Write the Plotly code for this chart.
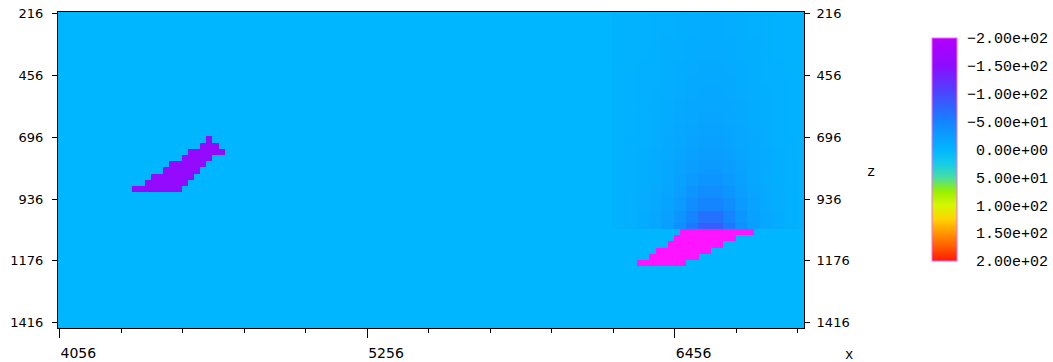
import numpy as np
import plotly.graph_objects as go

# ---- model grid: 24 m cells, values on cell centres ----
CELL = 24
X_FIRST = 4064          # centre of the first column
Z_FIRST = 225           # centre of the first row
NX, NZ = 122, 51
background_value = 0.0

# shallow dipping body (one entry per grid row: depth, left edge, right edge)
body_a_z = [705, 729, 753, 777, 801, 825, 849, 873, 897]
body_a_x0 = [4628, 4604, 4556, 4532, 4484, 4460, 4412, 4388, 4340]
body_a_x1 = [4652, 4676, 4700, 4652, 4628, 4604, 4580, 4556, 4532]
body_a_value = -160.0

# deep dipping body, value lies beyond the colour range
body_b_z = [1065, 1089, 1113, 1137, 1161, 1185]
body_b_x0 = [6476, 6452, 6428, 6380, 6356, 6308]
body_b_x1 = [6764, 6692, 6644, 6596, 6548, 6500]
body_b_value = -260.0

# response field above the deep body (48 m blocks, last row 24 m)
field_x_edges = [6212, 6260, 6308, 6356, 6404, 6452, 6500, 6548, 6596,
                 6644, 6692, 6740, 6788, 6836, 6884, 6932, 6980]
field_z_edges = [213, 261, 309, 357, 405, 453, 501, 549, 597, 645,
                 693, 741, 789, 837, 885, 933, 981, 1029, 1053]
field_values = [
    [-3, -4, -5, -6, -7, -8, -9, -10, -10, -9, -8, -7, -6, -5, -4, -3],
    [-3, -4, -5, -6, -7, -8, -9, -10, -10, -9, -8, -7, -6, -5, -4, -3],
    [-3, -4, -5, -6, -8, -9, -10, -11, -11, -10, -9, -8, -6, -5, -4, -3],
    [-3, -4, -5, -7, -8, -9, -10, -11, -11, -10, -9, -8, -7, -5, -4, -3],
    [-3, -4, -6, -7, -8, -10, -11, -12, -12, -11, -10, -8, -7, -6, -4, -3],
    [-4, -5, -6, -7, -9, -10, -12, -13, -13, -12, -10, -9, -7, -6, -5, -4],
    [-4, -5, -6, -8, -9, -11, -13, -14, -14, -13, -11, -9, -8, -6, -5, -4],
    [-4, -5, -6, -8, -10, -12, -14, -15, -15, -14, -12, -10, -8, -6, -5, -4],
    [-4, -5, -7, -8, -10, -13, -15, -17, -17, -15, -13, -10, -8, -7, -5, -4],
    [-4, -5, -7, -9, -11, -14, -17, -19, -19, -17, -14, -11, -9, -7, -5, -4],
    [-4, -6, -7, -9, -12, -15, -19, -21, -21, -19, -15, -12, -9, -7, -6, -4],
    [-4, -6, -8, -10, -13, -17, -21, -24, -24, -21, -17, -13, -10, -8, -6, -4],
    [-5, -6, -8, -11, -14, -19, -24, -28, -28, -24, -19, -14, -11, -8, -6, -5],
    [-5, -6, -8, -11, -15, -21, -28, -33, -33, -28, -21, -15, -11, -8, -6, -5],
    [-5, -7, -9, -12, -17, -24, -33, -40, -40, -33, -24, -17, -12, -9, -7, -5],
    [-5, -7, -9, -13, -19, -28, -40, -50, -50, -40, -28, -19, -13, -9, -7, -5],
    [-5, -7, -10, -14, -21, -33, -50, -66, -66, -50, -33, -21, -14, -10, -7, -5],
    [-5, -7, -10, -15, -23, -38, -60, -82, -82, -60, -38, -23, -15, -10, -7, -5],
]

cbar_ticks = [-200, -150, -100, -50, 0, 50, 100, 150, 200]
x_major_ticks = [4056, 5256, 6456]
z_ticks = [216, 456, 696, 936, 1176, 1416]

# ---- assemble the grids ----
x_left = X_FIRST - CELL // 2
grid = np.full((NZ, NX), background_value)
for z, x0, x1 in zip(body_a_z, body_a_x0, body_a_x1):
    j = (z - Z_FIRST) // CELL
    grid[j, (x0 - x_left) // CELL:(x1 - x_left) // CELL] = body_a_value

grid_b = np.full((NZ, NX), np.nan)
for z, x0, x1 in zip(body_b_z, body_b_x0, body_b_x1):
    j = (z - Z_FIRST) // CELL
    grid_b[j, (x0 - x_left) // CELL:(x1 - x_left) // CELL] = body_b_value

# colour bar runs from -200 at the top to +200 at the bottom, so the colour
# axis is the negated value
stops = [(200, '#ff1a00'), (175, '#ff5a00'), (150, '#ff9600'), (125, '#ffd400'),
         (100, '#d4f800'), (75, '#96f000'), (50, '#46dea4'), (25, '#14cce8'),
         (0, '#00b6ff'), (-50, '#1484ff'), (-100, '#4848ff'), (-150, '#8c0cff'),
         (-200, '#b400ff')]
colorscale = sorted([((200 - v) / 400.0, c) for v, c in stops])

def cb_label(v):
    s = f"{v:.2e}"
    return s.replace('-', '\u2212', 1) if v < 0 else '\u00a0' + s

mono = "Liberation Mono"
sans = "DejaVu Sans"

# plot area in pixels
L, R, T, B = 58, 804, 12, 328
W, H = R - L, B - T

fig = go.Figure()
fig.add_trace(go.Heatmap(
    z=-grid, x0=X_FIRST, dx=CELL, y0=Z_FIRST, dy=CELL,
    zmin=-200, zmax=200, colorscale=colorscale, zsmooth=False,
    colorbar=dict(
        thickness=25, len=223, lenmode='pixels',
        x=(932 - L) / W, xanchor='left', xpad=0,
        y=(B - 149.5) / H, yanchor='middle', ypad=0,
        outlinewidth=1, outlinecolor='#ff66ff',
        tickmode='array', tickvals=[-v for v in cbar_ticks],
        ticktext=[cb_label(v) for v in cbar_ticks],
        ticks='outside', ticklen=7, tickcolor='rgba(0,0,0,0)',
        tickfont=dict(family=mono, size=15, color='#000000'),
    ),
    hoverinfo='skip',
))
fig.add_trace(go.Heatmap(
    z=-np.array(field_values, dtype=float), x=field_x_edges, y=field_z_edges,
    zmin=-200, zmax=200, colorscale=colorscale, zsmooth=False,
    showscale=False, hoverinfo='skip',
))
fig.add_trace(go.Heatmap(
    z=-grid_b, x0=X_FIRST, dx=CELL, y0=Z_FIRST, dy=CELL,
    zmin=0, zmax=1, colorscale=[[0, '#ff14ff'], [1, '#ff14ff']],
    zsmooth=False, showscale=False, hoverinfo='skip',
))
fig.add_trace(go.Scatter(x=[], y=[], yaxis='y2', showlegend=False))

z_range = [1437, 209.4]
fig.update_layout(
    width=1053, height=362,
    margin=dict(l=L, r=1053 - R, t=T, b=362 - B, pad=0, autoexpand=False),
    paper_bgcolor='white', plot_bgcolor='#00b6ff',
    showlegend=False,
    xaxis=dict(
        range=[4050, 6960], tickmode='array', tickvals=x_major_ticks,
        ticktext=[str(v) for v in x_major_ticks],
        ticks='outside', ticklen=9, tickwidth=1, tickcolor='#000000',
        ticklabelposition='outside right', ticklabelstandoff=12,
        minor=dict(tickmode='linear', tick0=4056, dtick=240, ticks='outside',
                   ticklen=4, tickwidth=1, tickcolor='#000000', showgrid=False),
        showline=True, linecolor='#000000', linewidth=1, mirror=True,
        showgrid=False, zeroline=False, automargin=False,
        tickfont=dict(family=sans, size=14, color='#000000'),
    ),
    yaxis=dict(
        range=z_range, tickmode='array', tickvals=z_ticks,
        ticktext=[str(v) for v in z_ticks],
        ticks='outside', ticklen=5, tickwidth=1, tickcolor='#000000',
        ticklabelstandoff=6, automargin=False,
        showline=True, linecolor='#000000', linewidth=1, mirror=True,
        showgrid=False, zeroline=False,
        tickfont=dict(family=sans, size=13, color='#000000'),
    ),
    yaxis2=dict(
        range=z_range, overlaying='y', side='right', anchor='x',
        tickmode='array', tickvals=z_ticks, ticktext=[str(v) for v in z_ticks],
        ticks='outside', ticklen=5, tickwidth=1, tickcolor='#000000',
        ticklabelstandoff=4, automargin=False,
        showline=False, showgrid=False, zeroline=False,
        tickfont=dict(family=sans, size=13, color='#000000'),
    ),
    annotations=[
        dict(text='x', xref='paper', yref='paper', x=(849 - L) / W,
             y=(B - 355) / H, xanchor='center', yanchor='middle',
             showarrow=False, font=dict(family=mono, size=14, color='#000000')),
        dict(text='z', xref='paper', yref='paper', x=(871 - L) / W,
             y=(B - 172) / H, xanchor='center', yanchor='middle',
             showarrow=False, font=dict(family=mono, size=14, color='#000000')),
    ],
)

fig.write_html("out.html")
